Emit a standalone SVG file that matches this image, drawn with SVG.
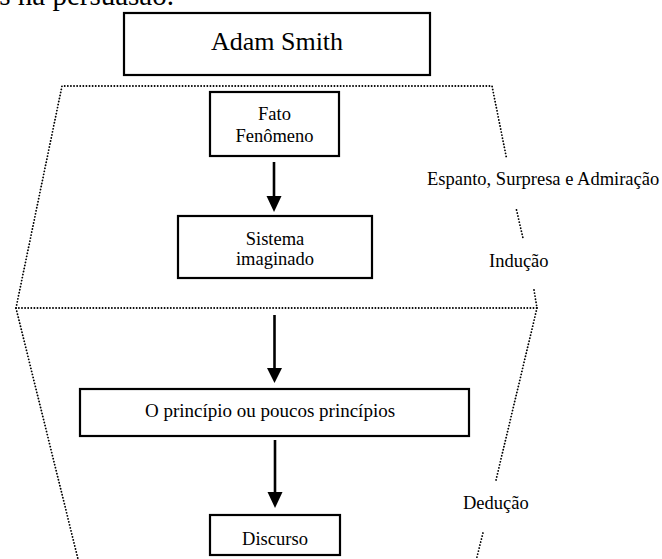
<svg xmlns="http://www.w3.org/2000/svg" width="662" height="559" viewBox="0 0 662 559">
<style>
.box{fill:#fff;stroke:#000;stroke-width:2.2}
.t{font-size:18.5px;text-anchor:middle}
.lbl{font-size:18.5px}
.dot{fill:none;stroke:#000;stroke-width:1.8;stroke-dasharray:0.1 3;stroke-linecap:round}
.arr{stroke:#000;stroke-width:2.6;fill:none}
</style>
<rect width="662" height="559" fill="#fff"/>
<g font-family="'Liberation Serif', Tinos, 'Times New Roman', 'DejaVu Serif', serif" fill="#000">
<text x="174" y="5" font-size="29" text-anchor="end">s na persuasão.</text>
<g id="regions">
<path class="dot" d="M16 308 L62 86 L492 86 L506.5 158"/>
<path class="dot" d="M516.5 210 L523 238"/>
<path class="dot" d="M534 290 L537 308 L16 308 L78 559"/>
<path class="dot" d="M537 308 L496 480"/>
<path class="dot" d="M483 533 L476.5 559"/>
</g>
<g id="n-adam"><rect class="box" x="124" y="13" width="306" height="62"/><text x="277" y="50" font-size="26" text-anchor="middle">Adam Smith</text></g>
<g id="n-fato"><rect class="box" x="210" y="92" width="129" height="64"/><text class="t" x="274.5" y="120">Fato</text><text class="t" x="274.5" y="142">Fenômeno</text></g>
<g id="n-sistema"><rect class="box" x="178" y="216" width="194" height="62"/><text class="t" x="275" y="245">Sistema</text><text class="t" x="275" y="265">imaginado</text></g>
<g id="n-principio"><rect class="box" x="80" y="389" width="389" height="47"/><text class="t" x="270" y="417" style="font-size:19px">O princípio ou poucos princípios</text></g>
<g id="n-discurso"><rect class="box" x="210" y="515" width="130" height="40"/><text class="t" x="275" y="545">Discurso</text></g>
<g id="labels">
<text class="lbl" x="427" y="185">Espanto, Surpresa e Admiração</text>
<text class="lbl" x="489" y="267">Indução</text>
<text class="lbl" x="463" y="509">Dedução</text>
</g>
</g>
<g id="connectors">
<path d="M274 162 V197" class="arr"/><path d="M266.5 196 H281.5 L274 212 Z"/>
<path d="M274.5 315 V369" class="arr"/><path d="M267 368 H282 L274.5 383 Z"/>
<path d="M275 440 V493" class="arr"/><path d="M267.5 492 H282.5 L275 508 Z"/>
</g>
</svg>
